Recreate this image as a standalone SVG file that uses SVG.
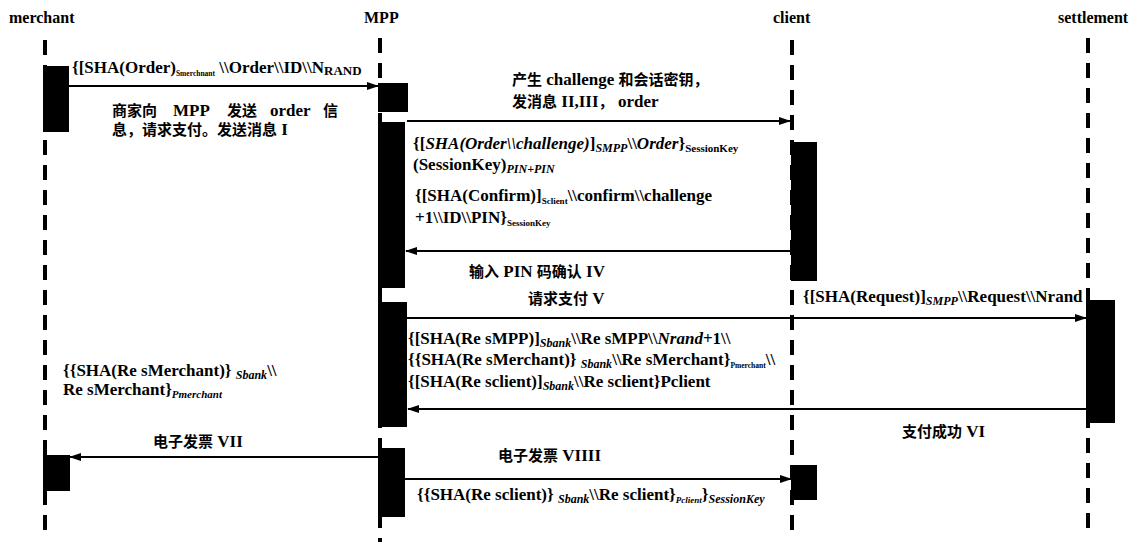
<svg xmlns="http://www.w3.org/2000/svg" width="1134" height="542" viewBox="0 0 1134 542">
<style>
  text { font-family: "Liberation Serif", "Times New Roman", "DejaVu Serif", "Noto Sans CJK SC", serif; font-size: 17px; font-weight: bold; fill: #000; }
  .hdr { font-size: 16px; }
  .zh { font-family: "Noto Sans CJK SC", sans-serif; font-size: 15px; font-weight: bold; }
  .it { font-style: italic; }
  .s7 { font-size: 7.5px; }
  .s9 { font-size: 9px; }
  .s11 { font-size: 11px; }
  .s12 { font-size: 12px; }
  .s13 { font-size: 13px; }
  .life { stroke: #000; stroke-width: 4; stroke-dasharray: 15 10; fill: none; }
  .act { fill: #000; }
  .msg { stroke: #000; stroke-width: 2; fill: none; marker-end: url(#ah); }
</style>
<defs>
  <marker id="ah" markerWidth="12" markerHeight="8" refX="11" refY="4" orient="auto" markerUnits="userSpaceOnUse">
    <path d="M0,0 L12,4 L0,8 z" fill="#000"/>
  </marker>
</defs>
<rect width="1134" height="542" fill="#fff"/>

<g id="merchant">
  <text class="hdr" x="9" y="23">merchant</text>
  <line class="life" x1="45" y1="40" x2="45" y2="536"/>
  <rect class="act" x="43" y="66" width="26" height="66"/>
  <rect class="act" x="43" y="455" width="27" height="36"/>
</g>
<g id="mpp">
  <text class="hdr" x="364" y="23">MPP</text>
  <line class="life" x1="380" y1="38" x2="380" y2="542"/>
  <rect class="act" x="378" y="83" width="30" height="29"/>
  <rect class="act" x="378" y="122" width="27" height="166"/>
  <rect class="act" x="378" y="302" width="29" height="125"/>
  <rect class="act" x="378" y="448" width="27" height="69"/>
</g>
<g id="client">
  <text class="hdr" x="773" y="23">client</text>
  <line class="life" x1="792" y1="40" x2="792" y2="532"/>
  <rect class="act" x="791" y="142" width="26" height="139"/>
  <rect class="act" x="791" y="465" width="26" height="35"/>
</g>
<g id="settlement">
  <text class="hdr" x="1058" y="23">settlement</text>
  <line class="life" x1="1088" y1="38" x2="1088" y2="536"/>
  <rect class="act" x="1086" y="300" width="29" height="123"/>
</g>

<g id="connectors">
  <line class="msg" x1="69" y1="86" x2="378" y2="86"/>
  <line class="msg" x1="407" y1="121" x2="790" y2="121"/>
  <line class="msg" x1="790" y1="251" x2="406" y2="251"/>
  <line class="msg" x1="407" y1="318" x2="1086" y2="318"/>
  <line class="msg" x1="1086" y1="409" x2="408" y2="409"/>
  <line class="msg" x1="378" y1="457" x2="70" y2="457"/>
  <line class="msg" x1="405" y1="479" x2="791" y2="479"/>
</g>

<g id="labels">
  <text x="72" y="73">{[SHA(Order)<tspan class="s7" dy="3">Smerchnant</tspan><tspan dy="-3"> \\Order\\ID\\N</tspan><tspan class="s13" dy="2">RAND</tspan></text>

  <text y="116"><tspan class="zh" x="112">商家向</tspan><tspan x="173">MPP</tspan><tspan class="zh" x="227">发送</tspan><tspan x="270">order</tspan><tspan class="zh" x="323">信</tspan></text>
  <text y="135" x="112"><tspan class="zh">息，请求支付。发送消息</tspan> I</text>

  <text x="512" y="85"><tspan class="zh">产生</tspan> challenge <tspan class="zh">和会话密钥，</tspan></text>
  <text x="512" y="107"><tspan class="zh">发消息</tspan> II,III<tspan class="zh">，</tspan> order</text>

  <text x="413" y="149">{[<tspan class="it">SHA(Order\\challenge)</tspan>]<tspan class="it s12" dy="3">SMPP</tspan><tspan dy="-3">\\</tspan><tspan class="it">Order</tspan>}<tspan class="s11" dy="3">SessionKey</tspan></text>
  <text x="413" y="170">(SessionKey)<tspan class="it s12" dy="3">PIN+PIN</tspan></text>
  <text x="415" y="201">{[SHA(Confirm)]<tspan class="s9" dy="3">Sclient</tspan><tspan dy="-3">\\confirm\\challenge</tspan></text>
  <text x="415" y="223">+1\\ID\\PIN}<tspan class="s9" dy="3">SessionKey</tspan></text>

  <text x="469" y="277"><tspan class="zh">输入</tspan> PIN <tspan class="zh">码确认</tspan> IV</text>

  <text x="528" y="304"><tspan class="zh">请求支付</tspan> V</text>
  <text x="803" y="302">{[SHA(Request)]<tspan class="it s12" dy="3">SMPP</tspan><tspan dy="-3">\\Request\\Nrand</tspan></text>

  <text x="408" y="344">{[SHA(Re sMPP)]<tspan class="it s12" dy="3">Sbank</tspan><tspan dy="-3">\\Re sMPP\\</tspan><tspan class="it">Nrand</tspan>+1\\</text>
  <text x="408" y="365">{{SHA(Re sMerchant)} <tspan class="it s12" dy="3">Sbank</tspan><tspan dy="-3">\\Re sMerchant}</tspan><tspan class="s7" dy="3">Pmerchant</tspan><tspan dy="-3">\\</tspan></text>
  <text x="408" y="387">{[SHA(Re sclient)]<tspan class="it s12" dy="3">Sbank</tspan><tspan dy="-3">\\Re sclient}Pclient</tspan></text>

  <text x="902" y="437"><tspan class="zh">支付成功</tspan> VI</text>

  <text x="63" y="376">{{SHA(Re sMerchant)} <tspan class="it s12" dy="3">Sbank</tspan><tspan dy="-3">\\</tspan></text>
  <text x="63" y="395">Re sMerchant}<tspan class="it s11" dy="3">Pmerchant</tspan></text>

  <text x="153" y="447"><tspan class="zh">电子发票</tspan> VII</text>
  <text x="498" y="461"><tspan class="zh">电子发票</tspan> VIIII</text>
  <text x="417" y="500">{{SHA(Re sclient)} <tspan class="it s12" dy="3">Sbank</tspan><tspan dy="-3">\\Re sclient}</tspan><tspan class="it s9" dy="3">Pclient</tspan><tspan dy="-3">}</tspan><tspan class="it s12" dy="3">SessionKey</tspan></text>
</g>
</svg>
